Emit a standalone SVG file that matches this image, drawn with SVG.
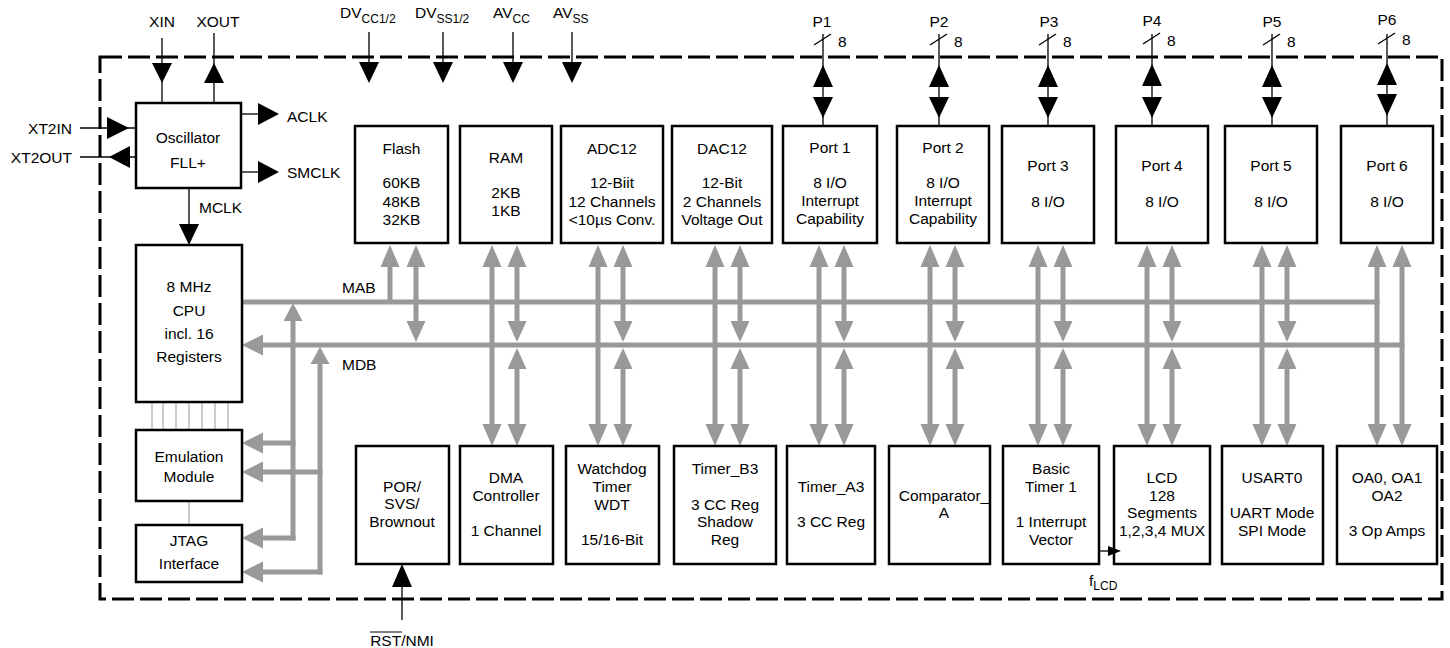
<svg xmlns="http://www.w3.org/2000/svg" width="1450" height="648" viewBox="0 0 1450 648">
<style>
text{font-family:"Liberation Sans",Arial,Helvetica,sans-serif;font-size:15.5px;fill:#000}
.c{text-anchor:middle}
.s{text-anchor:start}
.e{text-anchor:end}
.box{fill:#fff;stroke:#000;stroke-width:2.5}
.bl{stroke:#000;stroke-width:1.3;fill:none}
.bh{fill:#000}
.gl{stroke:#999;stroke-width:5;fill:none}
.gh{fill:#999}
.thin{stroke:#999;stroke-width:1}
.border{fill:none;stroke:#000;stroke-width:3;stroke-dasharray:22 6}
</style>
<rect class="border" x="100" y="57" width="1342" height="542"/>

<g id="connectors">
<!-- top power arrows -->
<line class="bl" x1="369" y1="32" x2="369" y2="64"/><polygon class="bh" points="369,83 359,62 379,62"/>
<line class="bl" x1="443" y1="32" x2="443" y2="64"/><polygon class="bh" points="443,83 433,62 453,62"/>
<line class="bl" x1="513" y1="32" x2="513" y2="64"/><polygon class="bh" points="513,83 503,62 523,62"/>
<line class="bl" x1="572" y1="32" x2="572" y2="64"/><polygon class="bh" points="572,83 562,62 582,62"/>
<!-- oscillator -->
<line class="bl" x1="162" y1="38" x2="162" y2="103"/><polygon class="bh" points="162,83 152,63 172,63"/>
<line class="bl" x1="214" y1="33" x2="214" y2="103"/><polygon class="bh" points="214,63 204,83 224,83"/>
<line class="bl" x1="241" y1="114" x2="260" y2="114"/><polygon class="bh" points="279,114 258,103 258,125"/>
<line class="bl" x1="241" y1="172" x2="260" y2="172"/><polygon class="bh" points="279,172 258,161 258,183"/>
<line class="bl" x1="80" y1="128" x2="136" y2="128"/><polygon class="bh" points="129,128 107,117 107,139"/>
<line class="bl" x1="80" y1="157" x2="136" y2="157"/><polygon class="bh" points="109,157 130,146 130,168"/>
<line class="bl" x1="189" y1="188" x2="189" y2="226"/><polygon class="bh" points="189,245 179,224 199,224"/>
<!-- ports -->
<g>
<line class="bl" x1="823" y1="34" x2="823" y2="126"/><line class="bl" x1="814" y1="45" x2="831" y2="34"/><polygon class="bh" points="823,65 813,87 833,87"/><polygon class="bh" points="823,118 813,97 833,97"/>
<line class="bl" x1="939" y1="34" x2="939" y2="126"/><line class="bl" x1="930" y1="45" x2="947" y2="34"/><polygon class="bh" points="939,65 929,87 949,87"/><polygon class="bh" points="939,118 929,97 949,97"/>
<line class="bl" x1="1048" y1="34" x2="1048" y2="126"/><line class="bl" x1="1039" y1="45" x2="1056" y2="34"/><polygon class="bh" points="1048,65 1038,87 1058,87"/><polygon class="bh" points="1048,118 1038,97 1058,97"/>
<line class="bl" x1="1152" y1="34" x2="1152" y2="126"/><line class="bl" x1="1143" y1="44" x2="1160" y2="33"/><polygon class="bh" points="1152,64 1142,86 1162,86"/><polygon class="bh" points="1152,118 1142,97 1162,97"/>
<line class="bl" x1="1272" y1="34" x2="1272" y2="126"/><line class="bl" x1="1263" y1="45" x2="1280" y2="34"/><polygon class="bh" points="1272,65 1262,87 1282,87"/><polygon class="bh" points="1272,118 1262,97 1282,97"/>
<line class="bl" x1="1387" y1="34" x2="1387" y2="126"/><line class="bl" x1="1378" y1="44" x2="1395" y2="33"/><polygon class="bh" points="1387,63 1377,85 1397,85"/><polygon class="bh" points="1387,116 1377,94 1397,94"/>
</g>
<!-- RST -->
<line class="bl" x1="402" y1="620" x2="402" y2="585"/><polygon class="bh" points="402,564 392,587 412,587"/>
<!-- fLCD -->
<line class="bl" x1="1099" y1="551" x2="1109" y2="551"/>
<!-- thin CPU-emulation lines -->
<g class="thin">
<line x1="152" y1="402" x2="152" y2="430"/><line x1="163" y1="402" x2="163" y2="430"/><line x1="176" y1="402" x2="176" y2="430"/><line x1="189" y1="402" x2="189" y2="430"/><line x1="202" y1="402" x2="202" y2="430"/><line x1="215" y1="402" x2="215" y2="430"/><line x1="228" y1="402" x2="228" y2="430"/>
<line x1="189" y1="501" x2="189" y2="525"/>
</g>
<!-- buses -->
<line class="gl" x1="242" y1="302" x2="1379.5" y2="302"/>
<line class="gl" x1="260" y1="345" x2="1404.5" y2="345"/>
<polygon class="gh" points="242,345 263,334.5 263,355.5"/>
<!-- CPU side verticals -->
<line class="gl" x1="293" y1="318" x2="293" y2="540.5"/><polygon class="gh" points="293,303 283.5,321 302.5,321"/>
<line class="gl" x1="320" y1="361" x2="320" y2="574.5"/><polygon class="gh" points="320,347 310.5,364 329.5,364"/>
<line class="gl" x1="295.5" y1="443" x2="260" y2="443"/><polygon class="gh" points="242,443 263,432.5 263,453.5"/>
<line class="gl" x1="322.5" y1="472" x2="260" y2="472"/><polygon class="gh" points="242,472 263,461.5 263,482.5"/>
<line class="gl" x1="295.5" y1="538" x2="260" y2="538"/><polygon class="gh" points="242,538 263,527.5 263,548.5"/>
<line class="gl" x1="322.5" y1="572" x2="260" y2="572"/><polygon class="gh" points="242,572 263,561.5 263,582.5"/>
<!-- Flash columns -->
<line class="gl" x1="390" y1="264" x2="390" y2="304"/><polygon class="gh" points="390,245 380.5,267 399.5,267"/>
<line class="gl" x1="416" y1="264" x2="416" y2="324"/><polygon class="gh" points="416,245 406.5,267 425.5,267"/><polygon class="gh" points="416,342 406.5,321 425.5,321"/>
<!-- columns: left continuous, right with MDB arrows -->
<g>
<line class="gl" x1="492" y1="264" x2="492" y2="427"/><polygon class="gh" points="492,245 482.5,267 501.5,267"/><polygon class="gh" points="492,446 482.5,424 501.5,424"/>
<line class="gl" x1="517" y1="264" x2="517" y2="324"/><line class="gl" x1="517" y1="366" x2="517" y2="427"/><polygon class="gh" points="517,245 507.5,267 526.5,267"/><polygon class="gh" points="517,342 507.5,321 526.5,321"/><polygon class="gh" points="517,348 507.5,369 526.5,369"/><polygon class="gh" points="517,446 507.5,424 526.5,424"/>

<line class="gl" x1="598" y1="264" x2="598" y2="427"/><polygon class="gh" points="598,245 588.5,267 607.5,267"/><polygon class="gh" points="598,446 588.5,424 607.5,424"/>
<line class="gl" x1="623" y1="264" x2="623" y2="324"/><line class="gl" x1="623" y1="366" x2="623" y2="427"/><polygon class="gh" points="623,245 613.5,267 632.5,267"/><polygon class="gh" points="623,342 613.5,321 632.5,321"/><polygon class="gh" points="623,348 613.5,369 632.5,369"/><polygon class="gh" points="623,446 613.5,424 632.5,424"/>

<line class="gl" x1="715" y1="264" x2="715" y2="427"/><polygon class="gh" points="715,245 705.5,267 724.5,267"/><polygon class="gh" points="715,446 705.5,424 724.5,424"/>
<line class="gl" x1="740" y1="264" x2="740" y2="324"/><line class="gl" x1="740" y1="366" x2="740" y2="427"/><polygon class="gh" points="740,245 730.5,267 749.5,267"/><polygon class="gh" points="740,342 730.5,321 749.5,321"/><polygon class="gh" points="740,348 730.5,369 749.5,369"/><polygon class="gh" points="740,446 730.5,424 749.5,424"/>

<line class="gl" x1="819" y1="264" x2="819" y2="427"/><polygon class="gh" points="819,245 809.5,267 828.5,267"/><polygon class="gh" points="819,446 809.5,424 828.5,424"/>
<line class="gl" x1="844" y1="264" x2="844" y2="324"/><line class="gl" x1="844" y1="366" x2="844" y2="427"/><polygon class="gh" points="844,245 834.5,267 853.5,267"/><polygon class="gh" points="844,342 834.5,321 853.5,321"/><polygon class="gh" points="844,348 834.5,369 853.5,369"/><polygon class="gh" points="844,446 834.5,424 853.5,424"/>

<line class="gl" x1="930" y1="264" x2="930" y2="427"/><polygon class="gh" points="930,245 920.5,267 939.5,267"/><polygon class="gh" points="930,446 920.5,424 939.5,424"/>
<line class="gl" x1="955" y1="264" x2="955" y2="324"/><line class="gl" x1="955" y1="366" x2="955" y2="427"/><polygon class="gh" points="955,245 945.5,267 964.5,267"/><polygon class="gh" points="955,342 945.5,321 964.5,321"/><polygon class="gh" points="955,348 945.5,369 964.5,369"/><polygon class="gh" points="955,446 945.5,424 964.5,424"/>

<line class="gl" x1="1038" y1="264" x2="1038" y2="427"/><polygon class="gh" points="1038,245 1028.5,267 1047.5,267"/><polygon class="gh" points="1038,446 1028.5,424 1047.5,424"/>
<line class="gl" x1="1063" y1="264" x2="1063" y2="324"/><line class="gl" x1="1063" y1="366" x2="1063" y2="427"/><polygon class="gh" points="1063,245 1053.5,267 1072.5,267"/><polygon class="gh" points="1063,342 1053.5,321 1072.5,321"/><polygon class="gh" points="1063,348 1053.5,369 1072.5,369"/><polygon class="gh" points="1063,446 1053.5,424 1072.5,424"/>

<line class="gl" x1="1147" y1="264" x2="1147" y2="427"/><polygon class="gh" points="1147,245 1137.5,267 1156.5,267"/><polygon class="gh" points="1147,446 1137.5,424 1156.5,424"/>
<line class="gl" x1="1172" y1="264" x2="1172" y2="324"/><line class="gl" x1="1172" y1="366" x2="1172" y2="427"/><polygon class="gh" points="1172,245 1162.5,267 1181.5,267"/><polygon class="gh" points="1172,342 1162.5,321 1181.5,321"/><polygon class="gh" points="1172,348 1162.5,369 1181.5,369"/><polygon class="gh" points="1172,446 1162.5,424 1181.5,424"/>

<line class="gl" x1="1262" y1="264" x2="1262" y2="427"/><polygon class="gh" points="1262,245 1252.5,267 1271.5,267"/><polygon class="gh" points="1262,446 1252.5,424 1271.5,424"/>
<line class="gl" x1="1287" y1="264" x2="1287" y2="324"/><line class="gl" x1="1287" y1="366" x2="1287" y2="427"/><polygon class="gh" points="1287,245 1277.5,267 1296.5,267"/><polygon class="gh" points="1287,342 1277.5,321 1296.5,321"/><polygon class="gh" points="1287,348 1277.5,369 1296.5,369"/><polygon class="gh" points="1287,446 1277.5,424 1296.5,424"/>

<line class="gl" x1="1377" y1="264" x2="1377" y2="427"/><polygon class="gh" points="1377,245 1367.5,267 1386.5,267"/><polygon class="gh" points="1377,446 1367.5,424 1386.5,424"/>
<line class="gl" x1="1402" y1="264" x2="1402" y2="427"/><polygon class="gh" points="1402,245 1392.5,267 1411.5,267"/><polygon class="gh" points="1402,446 1392.5,424 1411.5,424"/>
</g>
</g>

<!-- external labels -->
<g id="labels">
<text class="c" x="162" y="27">XIN</text>
<text class="c" x="218" y="27">XOUT</text>
<text class="s" x="340" y="18">DV<tspan font-size="12" dy="5">CC1/2</tspan></text>
<text class="s" x="415" y="18">DV<tspan font-size="12" dy="5">SS1/2</tspan></text>
<text class="s" x="493" y="18">AV<tspan font-size="12" dy="5">CC</tspan></text>
<text class="s" x="553" y="18">AV<tspan font-size="12" dy="5">SS</tspan></text>
<text class="s" x="287" y="122">ACLK</text>
<text class="s" x="287" y="178">SMCLK</text>
<text class="e" x="72" y="134">XT2IN</text>
<text class="e" x="72" y="163">XT2OUT</text>
<text class="s" x="199" y="213">MCLK</text>
<text class="s" x="342" y="293">MAB</text>
<text class="s" x="342" y="370">MDB</text>
<text class="c" x="822" y="27">P1</text><text class="s" x="838" y="47">8</text>
<text class="c" x="939" y="27">P2</text><text class="s" x="954" y="47">8</text>
<text class="c" x="1049" y="27">P3</text><text class="s" x="1063" y="47">8</text>
<text class="c" x="1152" y="26">P4</text><text class="s" x="1167" y="46">8</text>
<text class="c" x="1272" y="27">P5</text><text class="s" x="1287" y="47">8</text>
<text class="c" x="1387" y="25">P6</text><text class="s" x="1402" y="45">8</text>
<text class="c" x="402" y="646">RST/NMI</text>
<line x1="370" y1="632" x2="402" y2="632" stroke="#000" stroke-width="1"/>
<text class="s" x="1089" y="586">f<tspan font-size="12" dy="4">LCD</tspan></text>
</g>

<g id="osc"><rect class="box" x="136" y="103" width="105" height="85"/><text class="c" x="188" y="143">Oscillator</text><text class="c" x="188" y="168">FLL+</text></g>
<g id="cpu"><rect class="box" x="136" y="245" width="106" height="157"/><text class="c" x="189" y="292">8 MHz</text><text class="c" x="189" y="316">CPU</text><text class="c" x="189" y="339">incl. 16</text><text class="c" x="189" y="362">Registers</text></g>
<g id="emu"><rect class="box" x="136" y="430" width="106" height="71"/><text class="c" x="189" y="462">Emulation</text><text class="c" x="189" y="482">Module</text></g>
<g id="jtag"><rect class="box" x="136" y="525" width="106" height="57"/><text class="c" x="189" y="546">JTAG</text><text class="c" x="189" y="569">Interface</text></g>

<g id="flash"><rect class="box" x="355" y="126" width="93" height="117"/><text class="c" x="401.5" y="154">Flash</text><text class="c" x="401.5" y="188">60KB</text><text class="c" x="401.5" y="207">48KB</text><text class="c" x="401.5" y="225">32KB</text></g>
<g id="ram"><rect class="box" x="460" y="126" width="92" height="117"/><text class="c" x="506" y="163">RAM</text><text class="c" x="506" y="198">2KB</text><text class="c" x="506" y="216">1KB</text></g>
<g id="adc12"><rect class="box" x="561" y="126" width="102" height="117"/><text class="c" x="612" y="154">ADC12</text><text class="c" x="612" y="188">12-Biit</text><text class="c" x="612" y="207">12 Channels</text><text class="c" x="612" y="225">&lt;10µs Conv.</text></g>
<g id="dac12"><rect class="box" x="672" y="126" width="100" height="117"/><text class="c" x="722" y="154">DAC12</text><text class="c" x="722" y="188">12-Bit</text><text class="c" x="722" y="207">2 Channels</text><text class="c" x="722" y="225">Voltage Out</text></g>
<g id="port1"><rect class="box" x="783" y="126" width="94" height="117"/><text class="c" x="830" y="153">Port 1</text><text class="c" x="830" y="188">8 I/O</text><text class="c" x="830" y="206">Interrupt</text><text class="c" x="830" y="224">Capability</text></g>
<g id="port2"><rect class="box" x="897" y="126" width="92" height="117"/><text class="c" x="943" y="153">Port 2</text><text class="c" x="943" y="188">8 I/O</text><text class="c" x="943" y="206">Interrupt</text><text class="c" x="943" y="224">Capability</text></g>
<g id="port3"><rect class="box" x="1002" y="126" width="92" height="117"/><text class="c" x="1048" y="171">Port 3</text><text class="c" x="1048" y="207">8 I/O</text></g>
<g id="port4"><rect class="box" x="1116" y="126" width="92" height="117"/><text class="c" x="1162" y="171">Port 4</text><text class="c" x="1162" y="207">8 I/O</text></g>
<g id="port5"><rect class="box" x="1225" y="126" width="92" height="117"/><text class="c" x="1271" y="171">Port 5</text><text class="c" x="1271" y="207">8 I/O</text></g>
<g id="port6"><rect class="box" x="1341" y="126" width="92" height="117"/><text class="c" x="1387" y="171">Port 6</text><text class="c" x="1387" y="207">8 I/O</text></g>

<g id="por"><rect class="box" x="356" y="446" width="93" height="118"/><text class="c" x="402" y="492">POR/</text><text class="c" x="402" y="509">SVS/</text><text class="c" x="402" y="527">Brownout</text></g>
<g id="dma"><rect class="box" x="460" y="446" width="93" height="118"/><text class="c" x="506" y="483">DMA</text><text class="c" x="506" y="501">Controller</text><text class="c" x="506" y="536">1 Channel</text></g>
<g id="wdt"><rect class="box" x="566" y="446" width="93" height="118"/><text class="c" x="612" y="474">Watchdog</text><text class="c" x="612" y="492">Timer</text><text class="c" x="612" y="510">WDT</text><text class="c" x="612" y="545">15/16-Bit</text></g>
<g id="timerb3"><rect class="box" x="674" y="446" width="102" height="118"/><text class="c" x="725" y="474">Timer_B3</text><text class="c" x="725" y="510">3 CC Reg</text><text class="c" x="725" y="527">Shadow</text><text class="c" x="725" y="545">Reg</text></g>
<g id="timera3"><rect class="box" x="787" y="446" width="88" height="118"/><text class="c" x="831" y="492">Timer_A3</text><text class="c" x="831" y="527">3 CC Reg</text></g>
<g id="comparator"><rect class="box" x="889" y="446" width="101" height="118"/><text class="c" x="944" y="501">Comparator_</text><text class="c" x="944" y="518">A</text></g>
<g id="basictimer"><rect class="box" x="1003" y="446" width="96" height="118"/><text class="c" x="1051" y="474">Basic</text><text class="c" x="1051" y="492">Timer 1</text><text class="c" x="1051" y="527">1 Interrupt</text><text class="c" x="1051" y="545">Vector</text></g>
<g id="lcd"><rect class="box" x="1114" y="446" width="96" height="118"/><text class="c" x="1162" y="483">LCD</text><text class="c" x="1162" y="501">128</text><text class="c" x="1162" y="518">Segments</text><text class="c" x="1162" y="536">1,2,3,4 MUX</text></g>
<g id="usart0"><rect class="box" x="1222" y="446" width="101" height="118"/><text class="c" x="1272" y="483">USART0</text><text class="c" x="1272" y="518">UART Mode</text><text class="c" x="1272" y="536">SPI Mode</text></g>
<g id="oa"><rect class="box" x="1337" y="446" width="100" height="118"/><text class="c" x="1387" y="483">OA0, OA1</text><text class="c" x="1387" y="501">OA2</text><text class="c" x="1387" y="536">3 Op Amps</text></g>
<polygon class="bh" points="1121,551 1108,546 1108,556"/>
</svg>
